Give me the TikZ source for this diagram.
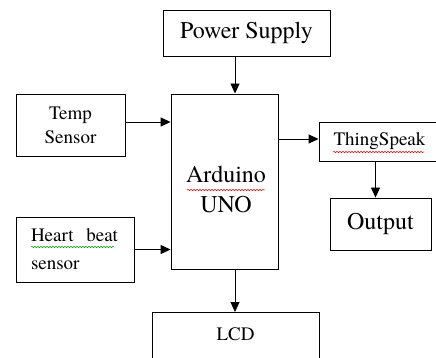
\documentclass[tikz,border=0pt]{standalone}
\usepackage{fontspec}
\setmainfont{texgyretermes-regular.otf}
\usetikzlibrary{arrows.meta,
                decorations.pathmorphing}

\begin{document}
\begin{tikzpicture}[x=1pt,y=-1pt,line width=0.9pt,
  block/.style={draw,inner sep=0pt},
  big/.style={font=\fontsize{24}{30}\selectfont},
  small/.style={font=\fontsize{19}{24}\selectfont},
  arr/.style={-{Triangle[length=10pt,width=9pt]}},
  squig/.style={decorate,decoration={snake,amplitude=0.7pt,segment length=3pt},line width=0.5pt}]
\useasboundingbox (0,0) rectangle (436,358);
\clip (0,0) rectangle (436,358);

\node[block,big,minimum width=167pt,minimum height=46pt] (power) at (246.5,33) {Power Supply};
\node[block,minimum width=107pt,minimum height=175pt,
  label={[big,align=center,yshift=-8pt,xshift=1.5pt]center:Arduino\\UNO}] (arduino) at (224.5,181.5) {};
\node[block,small,align=center,minimum width=109pt,minimum height=62pt] (temp) at (70.5,125) {Temp\\Sensor};
\node[block,align=left,font=\fontsize{19}{28}\selectfont,text width=88pt,inner xsep=15pt,
  minimum height=65pt] (heart) at (75,249.5) {Heart\ \ beat\\sensor};
\node[block,small,minimum width=121pt,minimum height=39pt] (thing) at (379.5,141.5) {ThingSpeak};
\node[block,big,minimum width=101pt,minimum height=52pt] (output) at (380.5,224) {Output};
\node[block,small,anchor=north,minimum width=167pt,inner ysep=15.5pt,text depth=30pt] (lcd) at (235.5,312) {LCD};

\path ([xshift=10.5pt]arduino.north) coordinate (ptop)
      ([xshift=10.5pt]arduino.south) coordinate (pbot)
      ([yshift=3pt]temp.east) coordinate (tout)
      ([yshift=2.5pt]thing.west) coordinate (tin)
      ([xshift=-4pt]thing.south) coordinate (tdown);

\draw[arr] (ptop |- power.south) -- (ptop);
\draw[arr] (tout) -- (tout -| arduino.west);
\draw[arr] (heart.east) -- (heart.east -| arduino.west);
\draw[arr] (tin -| arduino.east) -- (tin);
\draw[arr] (tdown) -- (tdown |- output.north);
\draw[arr] (pbot) -- (pbot |- lcd.north);

% spell check marks
\draw[squig,red] (187,190) -- (265,190);
\draw[squig,red] (333,152) -- (424,152);
\draw[squig,green!60!black] (31,247) -- (114,247);
\end{tikzpicture}
\end{document}
